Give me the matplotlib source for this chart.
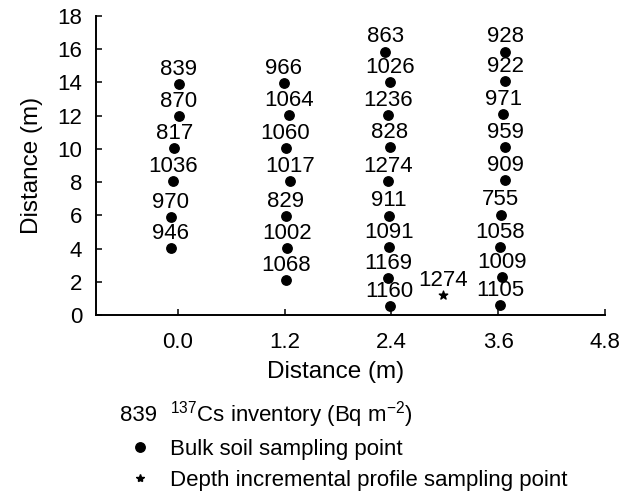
import matplotlib.pyplot as plt
from matplotlib.lines import Line2D

plt.rcParams['font.family'] = ['Liberation Sans', 'DejaVu Sans']
plt.rcParams['mathtext.default'] = 'regular'

# sampling points per transect: x (m), y (m), 137Cs inventory (Bq m-2)
x0 = [0.01, 0.01, -0.04, -0.05, -0.08, -0.08]
y0 = [13.92, 11.98, 10.07, 8.04, 5.91, 4.06]
v0 = [839, 870, 817, 1036, 970, 946]

x1 = [1.19, 1.25, 1.21, 1.26, 1.21, 1.23, 1.22]
y1 = [13.96, 12.03, 10.04, 8.08, 5.95, 4.02, 2.13]
v1 = [966, 1064, 1060, 1017, 829, 1002, 1068]

x2 = [2.33, 2.39, 2.36, 2.38, 2.36, 2.37, 2.37, 2.36, 2.38]
y2 = [15.85, 14.0, 12.03, 10.13, 8.08, 5.99, 4.12, 2.21, 0.57]
v2 = [863, 1026, 1236, 828, 1274, 911, 1091, 1169, 1160]

x3 = [3.68, 3.68, 3.66, 3.68, 3.68, 3.63, 3.62, 3.64, 3.62]
y3 = [15.85, 14.06, 12.07, 10.13, 8.14, 6.05, 4.12, 2.27, 0.61]
v3 = [928, 922, 971, 959, 909, 755, 1058, 1009, 1105]

# depth incremental profile point
xs = [2.98]
ys = [1.21]
vs = [1274]

xticks = [0.0, 1.2, 2.4, 3.6, 4.8]
xtick_labels = ['0.0', '1.2', '2.4', '3.6', '4.8']
yticks = [0, 2, 4, 6, 8, 10, 12, 14, 16, 18]

FS = 16

fig = plt.figure(figsize=(6.36, 4.94), dpi=100)
ax = fig.add_axes([0.151, 0.362, 0.800, 0.606])

bx = x0 + x1 + x2 + x3
by = y0 + y1 + y2 + y3
bv = v0 + v1 + v2 + v3

ax.scatter(bx, by, s=46, marker='o', color='black', clip_on=False, zorder=3)
ax.scatter(xs, ys, s=40, marker='*', color='black', clip_on=False, zorder=3)

for x, y, v in zip(bx + xs, by + ys, bv + vs):
    ax.annotate(str(v), (x, y), xytext=(0, 10.5), textcoords='offset points',
                ha='center', va='center', fontsize=FS)

ax.set_xlim(-0.92, 4.8)
ax.set_ylim(0, 18)
ax.set_xticks(xticks)
ax.set_xticklabels(xtick_labels)
ax.set_yticks(yticks)
ax.tick_params(axis='both', direction='in', length=4, width=1.1, labelsize=FS)
ax.tick_params(axis='x', pad=12)
ax.tick_params(axis='y', pad=10)
for s in ['top', 'right']:
    ax.spines[s].set_visible(False)
for s in ['left', 'bottom']:
    ax.spines[s].set_linewidth(1.4)

ax.set_xlabel('Distance (m)', fontsize=17.5)
ax.xaxis.set_label_coords(0.4715, -0.152)
ax.set_ylabel('Distance (m)', fontsize=17.5)
ax.yaxis.set_label_coords(-0.104, 0.5)

# key below the plot
fig.text(120 / 636, 1 - 415 / 494, '839', fontsize=FS, va='center', ha='left')
fig.text(170 / 636, 1 - 415 / 494, '$^{137}$Cs inventory (Bq m$^{-2}$)',
         fontsize=FS, va='center', ha='left')
handles = [Line2D([], [], marker='o', ls='none', color='black', markersize=6.8),
           Line2D([], [], marker='*', ls='none', color='black', markersize=6)]
labels = ['Bulk soil sampling point', 'Depth incremental profile sampling point']
fig.legend(handles, labels, loc='upper left', bbox_to_anchor=(131 / 636, 1 - 439 / 494),
           frameon=False, fontsize=FS, handlelength=0.8, handletextpad=0.95,
           labelspacing=0.44, borderpad=0, borderaxespad=0)

fig.savefig('out.png', dpi=100)
